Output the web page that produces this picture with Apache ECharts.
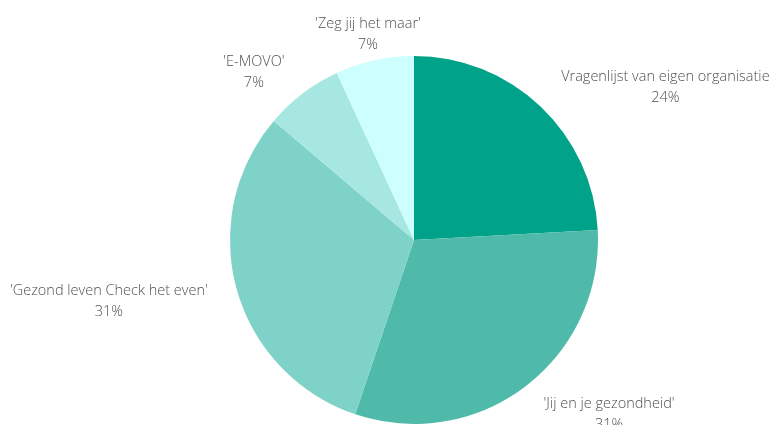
<!DOCTYPE html>
<html>
<head>
<meta charset="utf-8">
<script src="https://cdn.jsdelivr.net/npm/echarts@6/dist/echarts.min.js"></script>
<style>
    html, body {margin: 0; padding: 0; background: #fff;}
    #chart {width: 772px; height: 425px;}
</style>
</head>
<body>
<div id="chart"></div>
<script>
// aantallen per vragenlijst
const names = [
    'Vragenlijst van eigen organisatie',
    "'Jij en je gezondheid'",
    "'Gezond leven Check het even'",
    "'E-MOVO'",
    "'Zeg jij het maar'",
]
const counts = [7, 9, 9, 2, 2]
const colors = ['#00a389', '#4fbaaa', '#7ed2c8', '#a6e7e2', '#ccfffd']

const myChart = echarts.init(document.getElementById('chart'))

myChart.setOption({
    animation: false,
    color: colors,
    series: [
        {
            type: 'pie',
            center: [414, 240],
            radius: 184,
            startAngle: 90,
            percentPrecision: 0,
            avoidLabelOverlap: false,
            emphasis: {disabled: true},
            itemStyle: {borderWidth: 0},
            data: names.map((name, i) => ({name, value: counts[i]})),
            label: {
                position: 'outside',
                formatter: '{b}\n{d}%',
                fontFamily: 'Open Sans',
                fontWeight: 300,
                fontSize: 14.5,
                lineHeight: 21,
                color: '#505050',
            },
            labelLine: {
                show: true,
                length: 30,
                length2: 0,
                lineStyle: {opacity: 0},
            },
            labelLayout: (params) => {
                const pts = params.labelLinePoints
                if (!pts) return {}
                const [x, y] = pts[1]
                const dx = pts[1][0] - pts[0][0]
                const dy = pts[1][1] - pts[0][1]
                const s = dx / Math.sqrt(dx * dx + dy * dy)
                let side = 0
                if (s > 0.4) side = 1
                else if (s < -0.4) side = -1
                return {
                    x: x + (side * params.labelRect.width) / 2,
                    y: y + 3 + (dy > 0 ? 1 : 0),
                    align: 'center',
                    verticalAlign: 'middle',
                }
            },
        },
    ],
})
</script>
</body>
</html>
